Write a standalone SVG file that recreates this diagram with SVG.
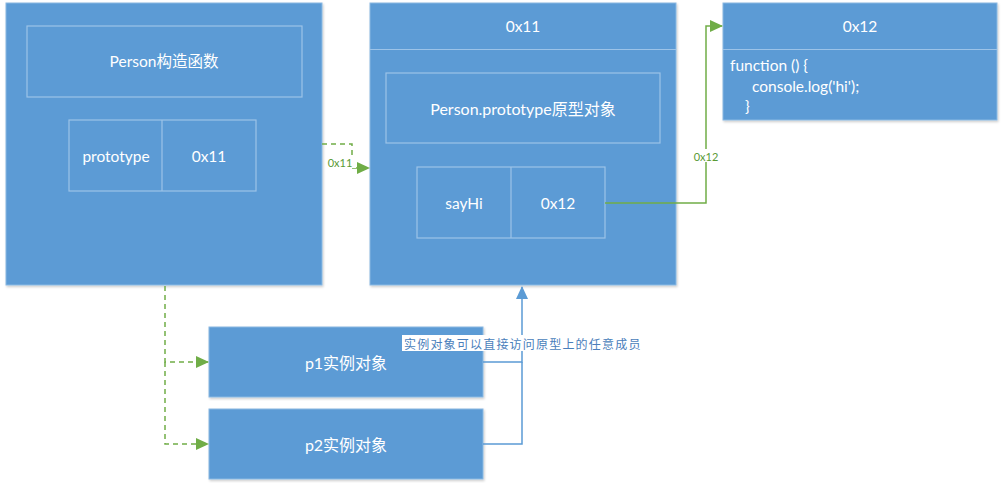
<svg xmlns="http://www.w3.org/2000/svg" width="1004" height="489" viewBox="0 0 1004 489">
<defs>
<filter id="sh" x="-5%" y="-5%" width="110%" height="110%"><feDropShadow dx="1" dy="1.5" stdDeviation="1.2" flood-color="#000" flood-opacity="0.2"/></filter>
<marker id="ag" markerWidth="13" markerHeight="12" refX="12" refY="6" orient="auto" markerUnits="userSpaceOnUse"><path d="M0,0 L13,6 L0,12 Z" fill="#70ad47"/></marker>
<marker id="ab" markerWidth="13" markerHeight="12" refX="12" refY="6" orient="auto" markerUnits="userSpaceOnUse"><path d="M0,0 L13,6 L0,12 Z" fill="#5b9bd5"/></marker>
</defs>
<style>
.box{fill:#5b9bd5;stroke:#8ab8e2;stroke-width:1;filter:url(#sh)}
.in{fill:none;stroke:#9cc3e8;stroke-width:1.2}
.t{font-family:Lato,"Noto Sans","Noto Sans CJK SC",sans-serif;font-size:15.5px;fill:#fff;text-anchor:middle;dominant-baseline:central}
.tc{font-size:16px}
.tl{font-family:Lato,"Noto Sans","Noto Sans CJK SC",sans-serif;font-size:15.5px;fill:#fff}
.g{fill:none;stroke:#70ad47;stroke-width:1.5}
.gd{fill:none;stroke:#70ad47;stroke-width:1.5;stroke-dasharray:5,4}
.b{fill:none;stroke:#5b9bd5;stroke-width:1.5}
.lg{font-family:Lato,"Noto Sans",sans-serif;font-size:11px;fill:#5a9a35;text-anchor:middle;dominant-baseline:central}
</style>
<g id="person">
<rect class="box" x="6" y="3" width="316" height="282"/>
<rect class="in" x="27" y="26" width="275" height="71"/>
<text class="t" x="164" y="61">Person构造函数</text>
<rect class="in" x="69" y="120" width="187" height="71"/>
<line class="in" x1="162" y1="120" x2="162" y2="191"/>
<text class="t" x="116" y="156">prototype</text>
<text class="t" x="209" y="156">0x11</text>
</g>
<g id="proto">
<rect class="box" x="370" y="3" width="306" height="282"/>
<line class="in" x1="370" y1="49.5" x2="676" y2="49.5"/>
<text class="t" x="523" y="26">0x11</text>
<rect class="in" x="386" y="73" width="274" height="70"/>
<text class="t tc" x="523" y="108">Person.prototype原型对象</text>
<rect class="in" x="417" y="167" width="188" height="71"/>
<line class="in" x1="511" y1="167" x2="511" y2="238"/>
<text class="t" x="464" y="203">sayHi</text>
<text class="t" x="558" y="203">0x12</text>
</g>
<g id="func">
<rect class="box" x="723" y="3" width="274" height="117"/>
<line class="in" x1="723" y1="49.5" x2="997" y2="49.5"/>
<text class="t" x="860" y="26">0x12</text>
<text class="tl" x="730" y="71">function () {</text>
<text class="tl" x="752" y="92">console.log('hi');</text>
<text class="tl" x="745" y="112">}</text>
</g>
<g id="p1">
<rect class="box" x="209" y="327" width="274" height="70"/>
<text class="t tc" x="346" y="362">p1实例对象</text>
</g>
<g id="p2">
<rect class="box" x="209" y="409" width="274" height="70"/>
<text class="t tc" x="346" y="444">p2实例对象</text>
</g>
<g id="connectors">
<path class="gd" d="M322,144 H352 V168 H369" marker-end="url(#ag)"/>
<rect x="326" y="155" width="30" height="13" fill="#fff"/>
<text class="lg" x="340" y="162">0x11</text>
<path class="g" d="M605,203 H706 V26 H722" marker-end="url(#ag)"/>
<rect x="692" y="149" width="28" height="13" fill="#fff"/>
<text class="lg" x="706" y="156">0x12</text>
<path class="gd" d="M165,286 V362 H208" marker-end="url(#ag)"/>
<path class="gd" d="M165,362 V444 H208" marker-end="url(#ag)"/>
<path class="b" d="M483,362 H522 V287" marker-end="url(#ab)"/>
<path class="b" d="M483,444 H522 V362"/>
<rect x="402" y="335" width="240" height="16" fill="#fff"/>
<text x="404" y="343" font-family="Noto Sans CJK SC,sans-serif" font-size="12px" fill="#4a7ebb" dominant-baseline="central" letter-spacing="1.2">实例对象可以直接访问原型上的任意成员</text>
</g>
</svg>
